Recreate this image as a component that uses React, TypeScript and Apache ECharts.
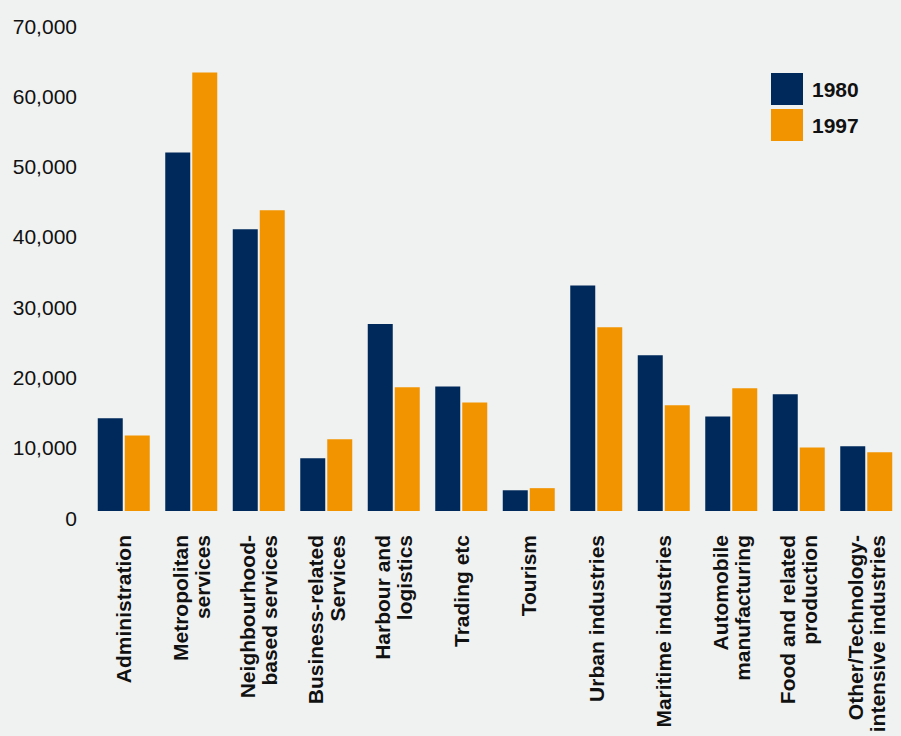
import React, { useEffect, useRef } from "react";
import * as echarts from "echarts";

const categories = [
  "Administration",
  "Metropolitan\nservices",
  "Neighbourhood-\nbased services",
  "Business-related\nServices",
  "Harbour and\nlogistics",
  "Trading etc",
  "Tourism",
  "Urban industries",
  "Maritime industries",
  "Automobile\nmanufacturing",
  "Food and related\nproduction",
  "Other/Technology-\nintensive industries",
];

const values1980 = [13200, 51000, 40100, 7500, 26600, 17700, 2950, 32100, 22150, 13450, 16600, 9200];
const values1997 = [10750, 62400, 42800, 10200, 17600, 15450, 3250, 26150, 15050, 17450, 9050, 8350];

const yTicks = [0, 10000, 20000, 30000, 40000, 50000, 60000, 70000];

const NAVY = "#00295B";
const ORANGE = "#F29400";
const BG = "#F0F2F1";
const FONT = "'Liberation Sans', Arial, Helvetica, sans-serif";

export default function App() {
  const ref = useRef<HTMLDivElement>(null);
  useEffect(() => {
    document.body.style.margin = "0";
    document.body.style.background = BG;
    const chart = echarts.init(ref.current!, null, { renderer: "svg" });
    chart.setOption({
      animation: false,
      backgroundColor: BG,
      textStyle: { fontFamily: FONT },
      legend: {
        orient: "vertical",
        left: 771,
        top: 73,
        padding: 0,
        itemWidth: 32,
        itemHeight: 32,
        itemGap: 4,
        icon: "rect",
        data: ["1980", "1997"],
        textStyle: {
          fontFamily: FONT,
          fontSize: 21,
          fontWeight: "bold",
          color: "#111",
          padding: [0, 0, 0, 4],
        },
      },
      grid: { left: 90, right: 1, top: 19, bottom: 225, containLabel: false },
      xAxis: {
        type: "category",
        data: categories,
        axisLine: { show: false },
        axisTick: { show: false },
        splitLine: { show: false },
        axisLabel: {
          interval: 0,
          rotate: 90,
          margin: 24,
          fontFamily: FONT,
          fontSize: 21,
          fontWeight: "bold",
          lineHeight: 22,
          color: "#111",
        },
      },
      yAxis: {
        type: "value",
        min: yTicks[0],
        max: yTicks[yTicks.length - 1],
        interval: 10000,
        axisLine: { show: false },
        axisTick: { show: false },
        splitLine: { show: false },
        axisLabel: {
          margin: 13,
          fontFamily: FONT,
          fontSize: 21,
          color: "#111",
          verticalAlign: "top",
          lineHeight: 14,
          formatter: (v: number) => v.toLocaleString("en-US"),
        },
      },
      series: [
        {
          name: "1980",
          type: "bar",
          data: values1980,
          barWidth: 25,
          barGap: "8%",
          itemStyle: { color: NAVY },
        },
        {
          name: "1997",
          type: "bar",
          data: values1997,
          barWidth: 25,
          itemStyle: { color: ORANGE },
        },
      ],
    });
    return () => chart.dispose();
  }, []);
  return <div ref={ref} style={{ width: 901, height: 736 }} />;
}
